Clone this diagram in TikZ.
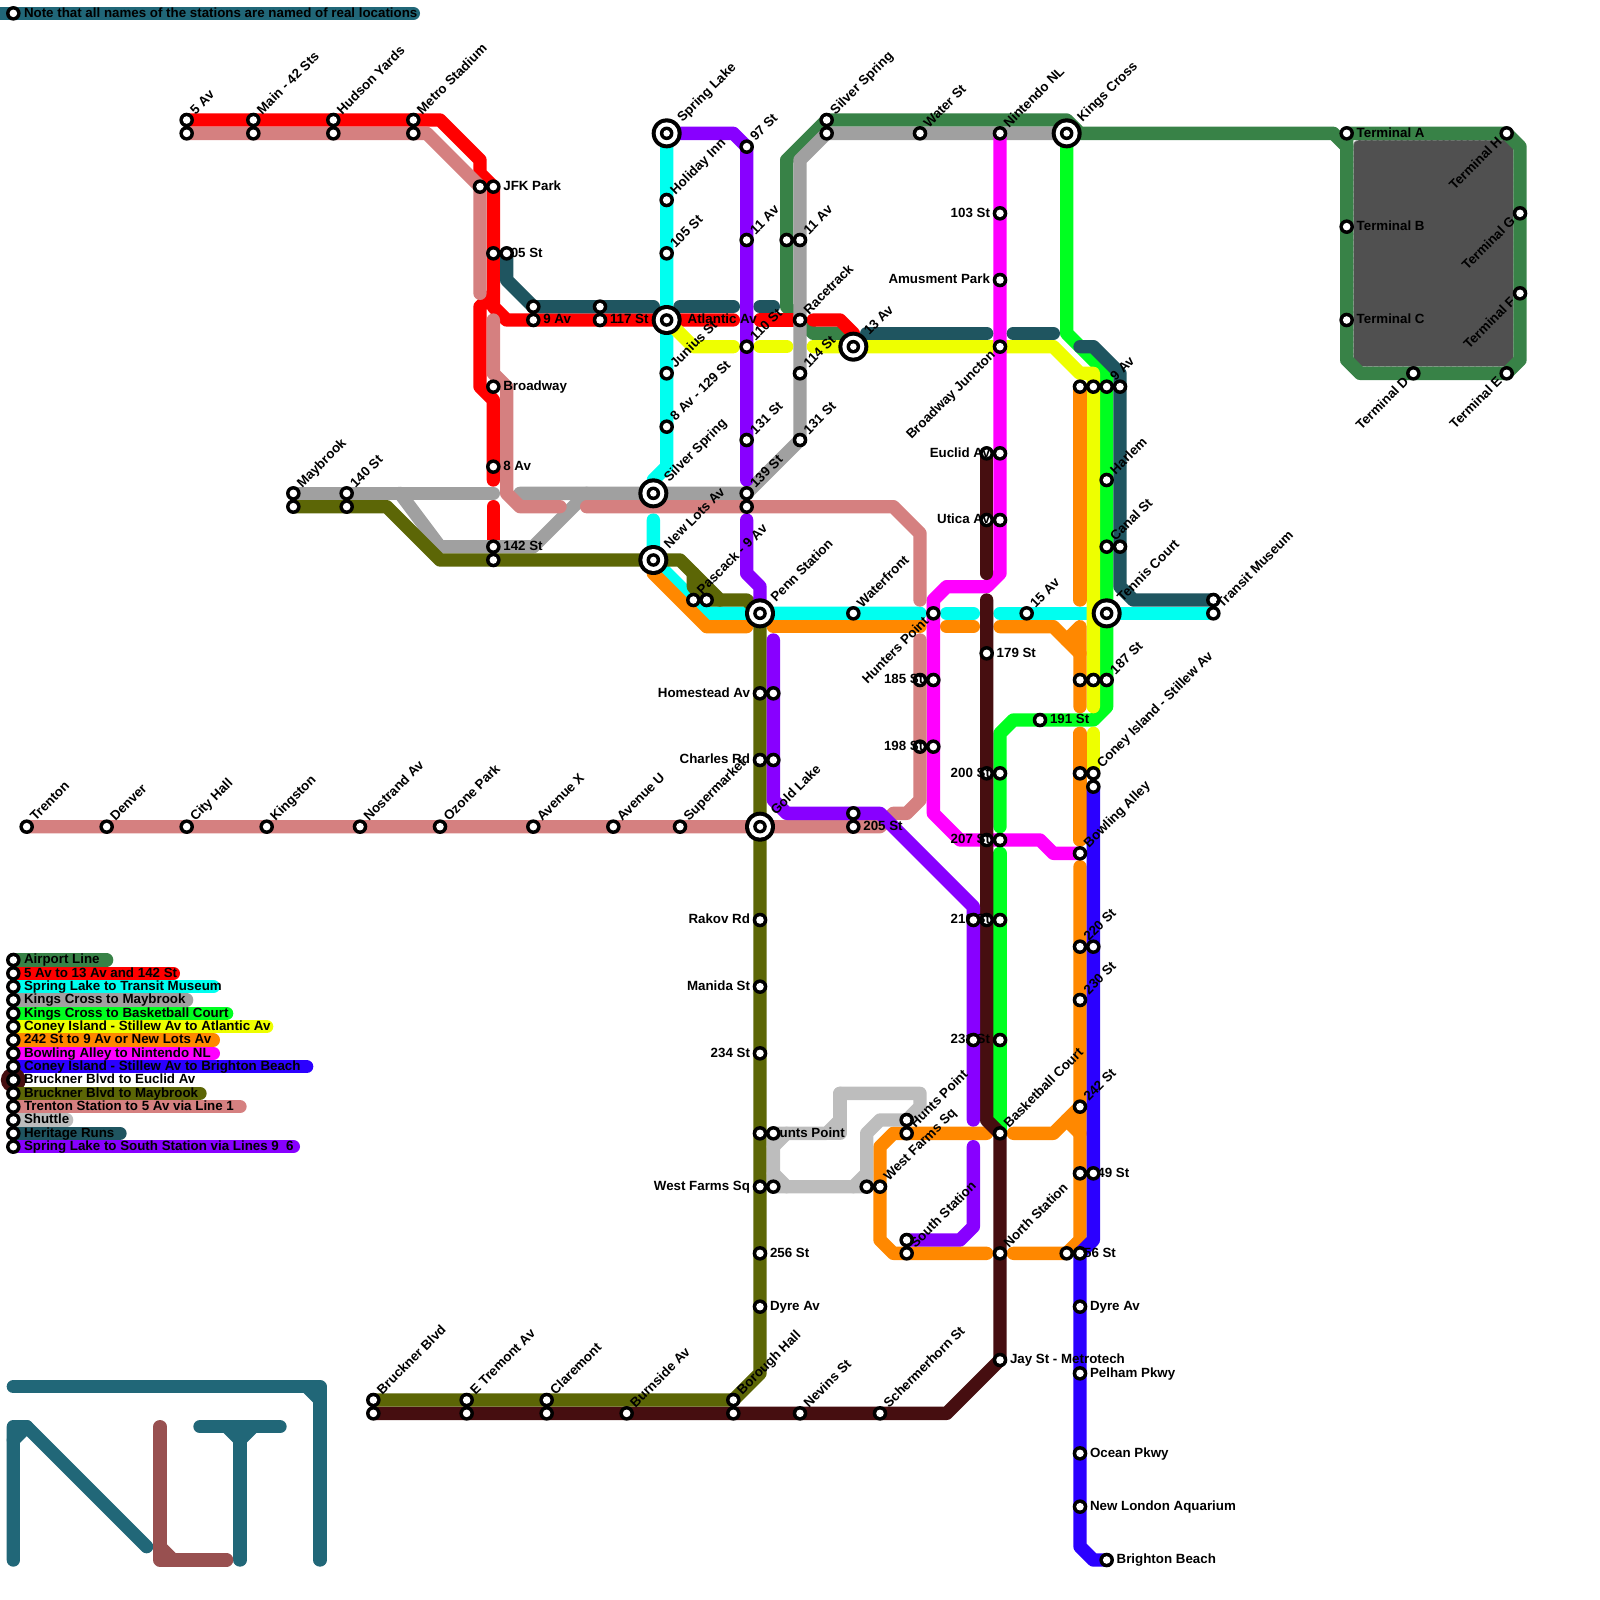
\documentclass[tikz,border=0pt]{standalone}
\usepackage{fontspec}
\setmainfont{Liberation Sans}
\definecolor{cAir}{HTML}{388247}
\definecolor{cRed}{HTML}{FF0000}
\definecolor{cCyan}{HTML}{00FFF0}
\definecolor{cGray}{HTML}{A0A0A0}
\definecolor{cLime}{HTML}{00FF20}
\definecolor{cYel}{HTML}{EEFF00}
\definecolor{cOra}{HTML}{FF8800}
\definecolor{cMag}{HTML}{FF00FF}
\definecolor{cBlue}{HTML}{2B00FF}
\definecolor{cBrown}{HTML}{460E10}
\definecolor{cOlive}{HTML}{5C6606}
\definecolor{cPink}{HTML}{D58080}
\definecolor{cShut}{HTML}{BDBDBD}
\definecolor{cHer}{HTML}{1F5560}
\definecolor{cPur}{HTML}{8800FF}
\definecolor{cLogo}{HTML}{216778}
\definecolor{cLogoR}{HTML}{985050}
\definecolor{cPark}{HTML}{505050}
\newcount\lblc
\newcommand\lblbase[4]{\global\advance\lblc by 1 \node[lbl,#1] (lbl\the\lblc) at (#2,#3) {#4};}
\newcommand\lne[3]{\lblbase{xshift=9pt,yshift=5pt,rotate=45,anchor=base west}{#1}{#2}{#3}}
\newcommand\lbig[3]{\lblbase{xshift=16pt,yshift=11pt,rotate=45,anchor=base west}{#1}{#2}{#3}}
\newcommand\lsw[3]{\lblbase{xshift=-4pt,yshift=-9pt,rotate=45,anchor=base east}{#1}{#2}{#3}}
\newcommand\lrt[3]{\lblbase{anchor=base west,xshift=10pt,yshift=-3.7pt}{#1}{#2}{#3}}
\newcommand\llf[3]{\lblbase{anchor=base east,xshift=-10pt,yshift=-3.7pt}{#1}{#2}{#3}}
\newcommand\legrow[3]{\draw[ln,#1] (1,#2) -- (#3,#2);}
\newcommand\legtxt[2]{\lblbase{anchor=base west,xshift=10.7pt,yshift=-3.7pt}{1}{#1}{#2}}
\tikzset{
  ln/.style={line width=13.33pt,line cap=round,line join=round},
  lbl/.style={font=\fontsize{13.33pt}{15pt}\selectfont\bfseries,inner sep=0pt,outer sep=0pt,text=black},
  stnr/.style={fill=black},
  stnw/.style={fill=white}
}
\begin{document}
\begin{tikzpicture}[x=13.3333pt,y=-13.3333pt]
\useasboundingbox (0,0) rectangle (120,120);
% park
\fill[cPark,rounded corners=5pt] (101.5,10.5) rectangle (113.5,27.5);
\draw[cGray!80,line width=0.7pt,dash pattern=on 4pt off 2pt,rounded corners=5pt] (101.5,10.5) rectangle (113.5,27.5);
% note and logo
\draw[line width=13.33pt,cLogo,line cap=round] (-2,1) -- (31,1);
\draw[ln,cLogo] (1,104) -- (24,104) -- (24,117);
\draw[ln,cLogo] (23,104) -- (24,105);
\draw[ln,cLogo] (1,117) -- (1,107) -- (2,107) -- (11,116);
\draw[ln,cLogo] (1,108) -- (2,107);
\draw[ln,cLogo] (15,107) -- (21,107);
\draw[ln,cLogo] (18,117) -- (18,108);
\draw[ln,cLogo] (17,107) -- (18,108) -- (19,107);
\draw[ln,cLogoR] (12,107) -- (12,117) -- (17,117);
\draw[ln,cLogoR] (12,116) -- (13,117);
% legend bars
\legrow{cAir}{72}{8}
\legrow{cRed}{73}{13}
\legrow{cCyan}{74}{16}
\legrow{cGray}{75}{14}
\legrow{cLime}{76}{17}
\legrow{cYel}{77}{20}
\legrow{cOra}{78}{16}
\legrow{cMag}{79}{16}
\legrow{cBlue}{80}{23}
\fill[cBrown] (1,81) circle (12.5pt);
\legrow{cOlive}{82}{15}
\legrow{cPink}{83}{18}
\legrow{cShut}{84}{5}
\legrow{cHer}{85}{9}
\legrow{cPur}{86}{22}
% Airport
\draw[ln,cAir] (64,26) -- (63,25) -- (61,25) -- (60,24) -- (59,23) -- (59,12) -- (62,9) -- (80,9) -- (81,10) -- (100,10) -- (101,11);
\draw[ln,cAir] (101,10) -- (113,10) -- (114,11) -- (114,27) -- (113,28) -- (102,28) -- (101,27) -- (101,10);
% Red
\draw[ln,cRed] (14,9) -- (33,9) -- (36,12) -- (36,13) -- (37,14) -- (37,23) -- (38,24) -- (55,24);
\draw[ln,cRed] (57,24) -- (60,24);
\draw[ln,cRed] (61,24) -- (63,24) -- (64,25) -- (64,26);
\draw[ln,cRed] (37,22) -- (36,23) -- (36,29) -- (37,30) -- (37,36);
\draw[ln,cRed] (37,38) -- (37,41);
% Cyan
\draw[ln,cCyan] (50,10) -- (50,35) -- (49,36) -- (49,37);
\draw[ln,cCyan] (49,39) -- (49,42) -- (53,46) -- (69,46);
\draw[ln,cCyan] (71,46) -- (73,46);
\draw[ln,cCyan] (75,46) -- (91,46);
% Gray
\draw[ln,cGray] (80,10) -- (62,10) -- (60,12) -- (60,33) -- (56,37) -- (39,37);
\draw[ln,cGray] (37,37) -- (22,37);
\draw[ln,cGray] (30,37) -- (33,41) -- (40,41) -- (44,37);
% Lime
\draw[ln,cLime] (80,10) -- (80,25) -- (83,28) -- (83,53) -- (82,54) -- (76,54) -- (75,55) -- (75,62);
\draw[ln,cLime] (75,64) -- (75,85);
% Yellow
\draw[ln,cYel] (50,24) -- (52,26) -- (55,26);
\draw[ln,cYel] (57,26) -- (59,26);
\draw[ln,cYel] (61,26) -- (79,26) -- (81,28) -- (82,28) -- (82,53);
\draw[ln,cYel] (82,55) -- (82,58);
% Orange
\draw[ln,cOra] (49,42) -- (49,43) -- (53,47) -- (56,47);
\draw[ln,cOra] (58,47) -- (69,47);
\draw[ln,cOra] (71,47) -- (73,47);
\draw[ln,cOra] (75,47) -- (79,47) -- (81,49);
\draw[ln,cOra] (81,29) -- (81,45);
\draw[ln,cOra] (80,48) -- (81,47) -- (81,53);
\draw[ln,cOra] (81,55) -- (81,63);
\draw[ln,cOra] (81,65) -- (81,93) -- (80,94) -- (76,94);
\draw[ln,cOra] (81,83) -- (79,85) -- (76,85);
\draw[ln,cOra] (80,84) -- (81,85);
\draw[ln,cOra] (74,85) -- (67,85) -- (66,86) -- (66,93) -- (67,94) -- (74,94);
% Magenta
\draw[ln,cMag] (75,10) -- (75,43) -- (74,44) -- (71,44) -- (70,45) -- (70,61) -- (72,63) -- (78,63) -- (79,64) -- (81,64);
% Blue
\draw[ln,cBlue] (82,59) -- (82,93) -- (81,94) -- (81,116) -- (82,117) -- (83,117);
% Brown
\draw[ln,cBrown] (28,106) -- (71,106) -- (75,102) -- (75,85) -- (74,84) -- (74,45);
\draw[ln,cBrown] (74,43) -- (74,34);
% Olive
\draw[ln,cOlive] (28,105) -- (55,105) -- (57,103) -- (57,46) -- (56,45) -- (54,45) -- (51,42) -- (49,42);
\draw[ln,cOlive] (22,38) -- (29,38) -- (33,42) -- (49,42);
\draw[ln,cOlive] (52,43) -- (52,44) -- (53,45) -- (54,45);
% Pink
\draw[ln,cPink] (2,62) -- (66,62) -- (67,61) -- (68,61) -- (69,60) -- (69,48);
\draw[ln,cPink] (69,45) -- (69,40) -- (67,38) -- (44,38);
\draw[ln,cPink] (42,38) -- (39,38) -- (38,37) -- (38,29) -- (37,28) -- (37,24);
\draw[ln,cPink] (36,22) -- (36,14) -- (32,10) -- (14,10);
% Shuttle
\draw[ln,cShut] (58,85) -- (62,85) -- (63,84) -- (63,82) -- (69,82) -- (69,83) -- (68,84) -- (66,84) -- (65,85) -- (65,89) -- (58,89) -- (58,85);
\draw[ln,cShut] (63,82) -- (63,85) -- (62,85);
\draw[ln,cShut] (65,88) -- (64,89);
\draw[ln,cShut] (58,88) -- (59,89);
\draw[ln,cShut] (58,86) -- (59,85);
% Heritage
\draw[ln,cHer] (38,19) -- (38,21) -- (40,23) -- (49,23);
\draw[ln,cHer] (51,23) -- (55,23);
\draw[ln,cHer] (57,23) -- (58,23);
\draw[ln,cHer] (65,25) -- (74,25);
\draw[ln,cHer] (76,25) -- (79,25);
\draw[ln,cHer] (81,26) -- (82,26) -- (84,28) -- (84,44) -- (85,45) -- (91,45);
% Purple
\draw[ln,cPur] (50,10) -- (55,10) -- (56,11) -- (56,36);
\draw[ln,cPur] (56,39) -- (56,43) -- (57,44) -- (57,46);
\draw[ln,cPur] (58,48) -- (58,60) -- (59,61) -- (66,61) -- (73,68) -- (73,84);
\draw[ln,cPur] (73,86) -- (73,92) -- (72,93) -- (68,93);
% Regular stations
\foreach \sx/\sy in {
 1/1,1/72,1/73,1/74,1/75,1/76,1/77,1/78,1/79,1/80,1/81,1/82,1/83,1/84,1/85,1/86,
 14/9,14/10,19/9,19/10,25/9,25/10,31/9,31/10,36/14,37/14,37/19,40/23,40/24,45/23,45/24,
 50/15,50/19,50/28,50/32,56/11,56/18,56/26,56/33,56/37,56/38,59/18,60/18,60/24,60/28,60/33,
 62/9,62/10,69/10,75/10,75/16,75/21,75/26,74/34,75/34,74/39,75/39,22/37,22/38,26/37,26/38,
 37/29,37/35,37/41,37/42,52/45,53/45,64/46,70/46,77/46,91/45,91/46,74/49,69/51,70/51,69/56,70/56,
 74/58,75/58,74/63,75/63,74/69,75/69,75/78,75/85,75/94,75/102,
 81/29,82/29,83/29,84/29,83/36,83/41,84/41,81/51,82/51,83/51,78/54,81/58,82/58,82/59,81/64,
 81/71,82/71,81/75,81/83,81/88,80/94,81/98,81/103,81/109,81/113,83/117,
 64/61,64/62,57/52,58/52,57/57,58/57,57/69,57/74,57/79,57/85,57/89,58/89,57/94,57/98,
 65/89,66/89,68/84,68/85,68/93,68/94,
 2/62,8/62,14/62,20/62,27/62,33/62,40/62,46/62,51/62,
 28/105,28/106,35/105,35/106,41/105,41/106,47/106,55/105,55/106,60/106,66/106,
 101/10,101/17,101/24,106/28,113/28,114/22,114/16,113/10}
 {\fill[stnr] (\sx,\sy) circle (7.3pt); \fill[stnw] (\sx,\sy) circle (3.8pt);}
% Interchanges
\foreach \sx/\sy in {50/10,50/24,49/37,49/42,57/46,57/62,80/10,64/26,83/46}
 {\fill[stnr] (\sx,\sy) circle (15pt); \fill[stnw] (\sx,\sy) circle (11pt);
  \fill[stnr] (\sx,\sy) circle (6.8pt); \fill[stnw] (\sx,\sy) circle (3.3pt);}
% Labels
\legtxt{1}{Note that all names of the stations are named of real locations}
\legtxt{72}{Airport Line}
\legtxt{73}{5 Av to 13 Av and 142 St}
\legtxt{74}{Spring Lake to Transit Museum}
\legtxt{75}{Kings Cross to Maybrook}
\legtxt{76}{Kings Cross to Basketball Court}
\legtxt{77}{Coney Island - Stillew Av to Atlantic Av}
\legtxt{78}{242 St to 9 Av or New Lots Av}
\legtxt{79}{Bowling Alley to Nintendo NL}
\legtxt{80}{Coney Island - Stillew Av to Brighton Beach}
\legtxt{81}{Bruckner Blvd to Euclid Av}
\legtxt{82}{Bruckner Blvd to Maybrook}
\legtxt{83}{Trenton Station to 5 Av via Line 1}
\legtxt{84}{Shuttle}
\legtxt{85}{Heritage Runs}
\legtxt{86}{Spring Lake to South Station via Lines 9\ \ 6}
\lne{14}{9}{5 Av}
\lne{19}{9}{Main - 42 Sts}
\lne{25}{9}{Hudson Yards}
\lne{31}{9}{Metro Stadium}
\lrt{37}{14}{JFK Park}
\lrt{37}{19}{105 St}
\lrt{40}{24}{9 Av}
\lrt{45}{24}{117 St}
\lbig{50}{10}{Spring Lake}
\lne{50}{15}{Holiday Inn}
\lne{50}{19}{105 St}
\lblbase{anchor=base west,xshift=21pt,yshift=-3.7pt}{50}{24}{Atlantic Av}
\lne{50}{28}{Junius St}
\lne{50}{32}{8 Av - 129 St}
\lbig{49}{37}{Silver Spring}
\lbig{49}{42}{New Lots Av}
\lne{56}{11}{97 St}
\lne{56}{18}{11 Av}
\lne{56}{26}{110 St}
\lne{56}{33}{131 St}
\lne{56}{37}{139 St}
\lne{60}{18}{11 Av}
\lne{60}{24}{Racetrack}
\lne{60}{28}{114 St}
\lne{60}{33}{131 St}
\lne{62}{9}{Silver Spring}
\lbig{64}{26}{13 Av}
\lne{69}{10}{Water St}
\lne{75}{10}{Nintendo NL}
\lbig{80}{10}{Kings Cross}
\llf{75}{16}{103 St}
\llf{75}{21}{Amusment Park}
\lsw{75}{26}{Broadway Juncton}
\llf{75}{34}{Euclid Av}
\llf{75}{39}{Utica Av}
\lne{22}{37}{Maybrook}
\lne{26}{37}{140 St}
\lrt{37}{29}{Broadway}
\lrt{37}{35}{8 Av}
\lrt{37}{41}{142 St}
\lne{52}{45}{Pascack - 9 Av}
\lbig{57}{46}{Penn Station}
\lne{64}{46}{Waterfront}
\lsw{70}{46}{Hunters Point}
\lne{77}{46}{15 Av}
\lbig{83}{46}{Tennis Court}
\lne{91}{46}{Transit Museum}
\lrt{74}{49}{179 St}
\llf{70}{51}{185 St}
\llf{70}{56}{198 St}
\llf{75}{58}{200 St}
\llf{75}{63}{207 St}
\llf{75}{69}{210 St}
\llf{75}{78}{231 St}
\lne{83}{29}{9 Av}
\lne{83}{36}{Harlem}
\lne{83}{41}{Canal St}
\lne{83}{51}{187 St}
\lrt{78}{54}{191 St}
\lne{82}{58}{Coney Island - Stillew Av}
\lne{81}{64}{Bowling Alley}
\lne{81}{71}{220 St}
\lne{81}{75}{230 St}
\lne{81}{83}{242 St}
\lrt{81}{88}{249 St}
\lrt{80}{94}{256 St}
\lrt{81}{98}{Dyre Av}
\lrt{81}{103}{Pelham Pkwy}
\lrt{81}{109}{Ocean Pkwy}
\lrt{81}{113}{New London Aquarium}
\lrt{83}{117}{Brighton Beach}
\lrt{75}{102}{Jay St - Metrotech}
\lne{75}{94}{North Station}
\lne{75}{85}{Basketball Court}
\lrt{64}{62}{205 St}
\llf{57}{52}{Homestead Av}
\llf{57}{57}{Charles Rd}
\lbig{57}{62}{Gold Lake}
\llf{57}{69}{Rakov Rd}
\llf{57}{74}{Manida St}
\llf{57}{79}{234 St}
\lrt{57}{85}{Hunts Point}
\llf{57}{89}{West Farms Sq}
\lrt{57}{94}{256 St}
\lrt{57}{98}{Dyre Av}
\lne{68}{85}{Hunts Point}
\lne{66}{89}{West Farms Sq}
\lne{68}{94}{South Station}
\lne{2}{62}{Trenton}
\lne{8}{62}{Denver}
\lne{14}{62}{City Hall}
\lne{20}{62}{Kingston}
\lne{27}{62}{Nostrand Av}
\lne{33}{62}{Ozone Park}
\lne{40}{62}{Avenue X}
\lne{46}{62}{Avenue U}
\lne{51}{62}{Supermarket}
\lne{28}{105}{Bruckner Blvd}
\lne{35}{105}{E Tremont Av}
\lne{41}{105}{Claremont}
\lne{47}{106}{Burnside Av}
\lne{55}{105}{Borough Hall}
\lne{60}{106}{Nevins St}
\lne{66}{106}{Schermerhorn St}
\lrt{101}{10}{Terminal A}
\lrt{101}{17}{Terminal B}
\lrt{101}{24}{Terminal C}
\lsw{106}{28}{Terminal D}
\lsw{113}{28}{Terminal E}
\lsw{114}{22}{Terminal F}
\lsw{114}{16}{Terminal G}
\lsw{113}{10}{Terminal H}
% Stations drawn over labels
\foreach \sx/\sy in {38/19,58/85,82/88,81/94,73/69,73/78}
 {\fill[stnr] (\sx,\sy) circle (7.3pt); \fill[stnw] (\sx,\sy) circle (3.8pt);}
\end{tikzpicture}
\end{document}
